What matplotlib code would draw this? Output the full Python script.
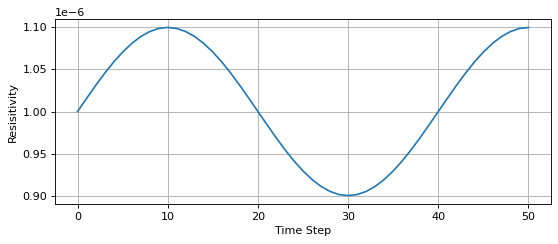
import numpy as np
import matplotlib
matplotlib.use("Agg")
import matplotlib.pyplot as plt

# time steps and resistivity values (in units of 1e-6)
time_step = list(range(51))
resistivity = [
    1.0000, 1.0156, 1.0309, 1.0454, 1.0588, 1.0707, 1.0809, 1.0891, 1.0951, 1.0988,
    1.1000, 1.0988, 1.0951, 1.0891, 1.0809, 1.0707, 1.0588, 1.0454, 1.0309, 1.0156,
    1.0000, 0.9844, 0.9691, 0.9546, 0.9412, 0.9293, 0.9191, 0.9109, 0.9049, 0.9012,
    0.9000, 0.9012, 0.9049, 0.9109, 0.9191, 0.9293, 0.9412, 0.9546, 0.9691, 0.9844,
    1.0000, 1.0156, 1.0309, 1.0454, 1.0588, 1.0707, 1.0809, 1.0891, 1.0951, 1.0988,
    1.1000,
]
resistivity = np.array(resistivity) * 1e-6

fig, ax = plt.subplots(figsize=(558 / 80, 244 / 80), dpi=80)
ax.plot(time_step, resistivity, color="#1f77b4")
ax.set_xlabel("Time Step")
ax.set_ylabel("Resisitivity")
ax.grid(True)
fig.subplots_adjust(left=0.0986, right=0.9875, top=0.922, bottom=0.164)
fig.savefig("out.png", dpi=80)
